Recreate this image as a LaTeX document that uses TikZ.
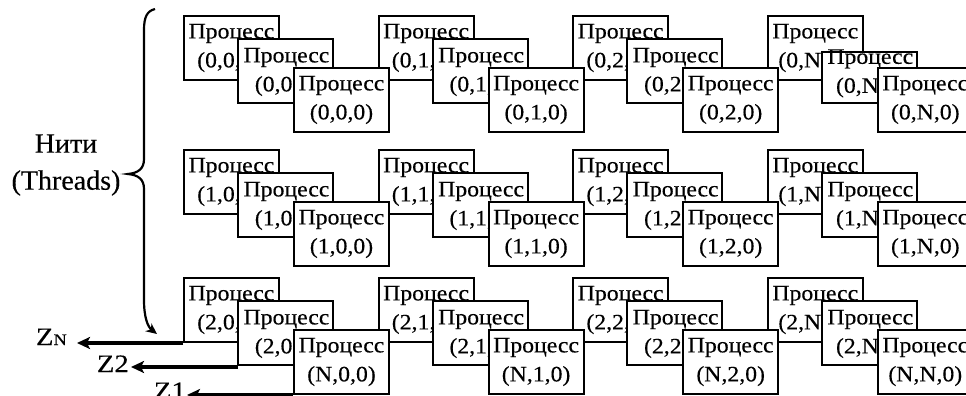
\documentclass[tikz,border=0pt]{standalone}
\usepackage{fontspec}
\setmainfont{Liberation Serif}
\newfontfamily\boxfont[FakeStretch=1.08,FakeBold=0.3]{Liberation Serif}
\newfontfamily\zfont[FakeStretch=1.15,FakeBold=0.3]{Liberation Serif}
\newfontfamily\labfont[FakeBold=0.3]{Liberation Serif}
\usetikzlibrary{arrows.meta}
\begin{document}
\begin{tikzpicture}[x=1pt,y=-1pt,
  procbox/.style={draw, line width=2pt, fill=white, minimum width=95pt,
    minimum height=64pt, inner sep=0pt, anchor=north west, align=center,
    font=\boxfont\fontsize{22}{29}\selectfont},
  procframe/.style={draw, line width=2pt, fill=white},
  zarrow/.style={line width=3.6pt, -{Stealth[length=13pt,width=12pt,inset=3pt]}},
  zlabel/.style={font=\zfont\fontsize{25}{25}\selectfont, inner sep=0pt, anchor=base east},
  bracepath/.style={line width=2.2pt, -{Stealth[length=11pt,width=10pt]}},
  ]
\useasboundingbox (0,0) rectangle (966,396);
\clip (0,0) rectangle (966,396);
\fill[white] (0,0) rectangle (966,396);

% process boxes: back (A), middle (B), front (C) layers per row
\foreach \r/\ry/\ra/\rc/\btl in {0/15/0/0/37, 1/149/1/1/24, 2/277/2/N/24}{
  \foreach \c/\cl in {0/0, 1/1, 2/2, 3/N}{
    \node[procbox] (A-\r-\c) at ({183+194.6*\c},\ry) {Процесс\\(\ra,\cl,N)};
  }
  \foreach \c/\cl in {0/0, 1/1, 2/2, 3/N}{
    \ifnum\c=3 \edef\bt{\btl}\else\def\bt{24}\fi
    \pgfmathsetmacro\bx{238+194.6*\c}
    \path[procframe] (\bx,{\ry+\bt}) rectangle ({\bx+95},{\ry+88});
    \node[procbox, draw=none, fill=none] (B-\r-\c) at (\bx,{\ry+24+(\bt-24)/9}) {Процесс\\(\ra,\cl,1)};
  }
  \foreach \c/\cl in {0/0, 1/1, 2/2, 3/N}{
    \node[procbox] (C-\r-\c) at ({293+194.6*\c},{\ry+52}) {Процесс\\(\rc,\cl,0)};
  }
}

% Z axes
\coordinate (zntip) at (77,340);
\coordinate (z2tip) at (131,363);
\coordinate (z1tip) at (187,391);
\draw[zarrow] (A-2-0.south west) -- (A-2-0.south west -| zntip);
\draw[zarrow] (B-2-0.south west) -- (B-2-0.south west -| z2tip);
\draw[zarrow] (C-2-0.south west) -- (C-2-0.south west -| z1tip);
\node[zlabel] (zn) at (67,345) {Z{\fontsize{16}{16}\selectfont N}};
\node[zlabel] (z2) at (129,372) {Z2};
\node[zlabel] (z1) at (186,399) {Z1};

% threads label and brace
\node[align=center, font=\labfont\fontsize{28}{37}\selectfont, inner sep=0pt] (threads) at (66,165) {Нити\\(Threads)};
\coordinate (bracetop) at (155,9);
\coordinate (bracetip) at (128,174);
\coordinate (braceend) at (157,334);
\draw[bracepath] (bracetop) .. controls (147,11) and (144,17) .. (144,30)
  -- (144,159) .. controls (144,169) and (138,173) .. (bracetip)
  .. controls (138,175) and (144,179) .. (144,189)
  -- (144,300) .. controls (144,318) and (148,327) .. (braceend);
\end{tikzpicture}
\end{document}
